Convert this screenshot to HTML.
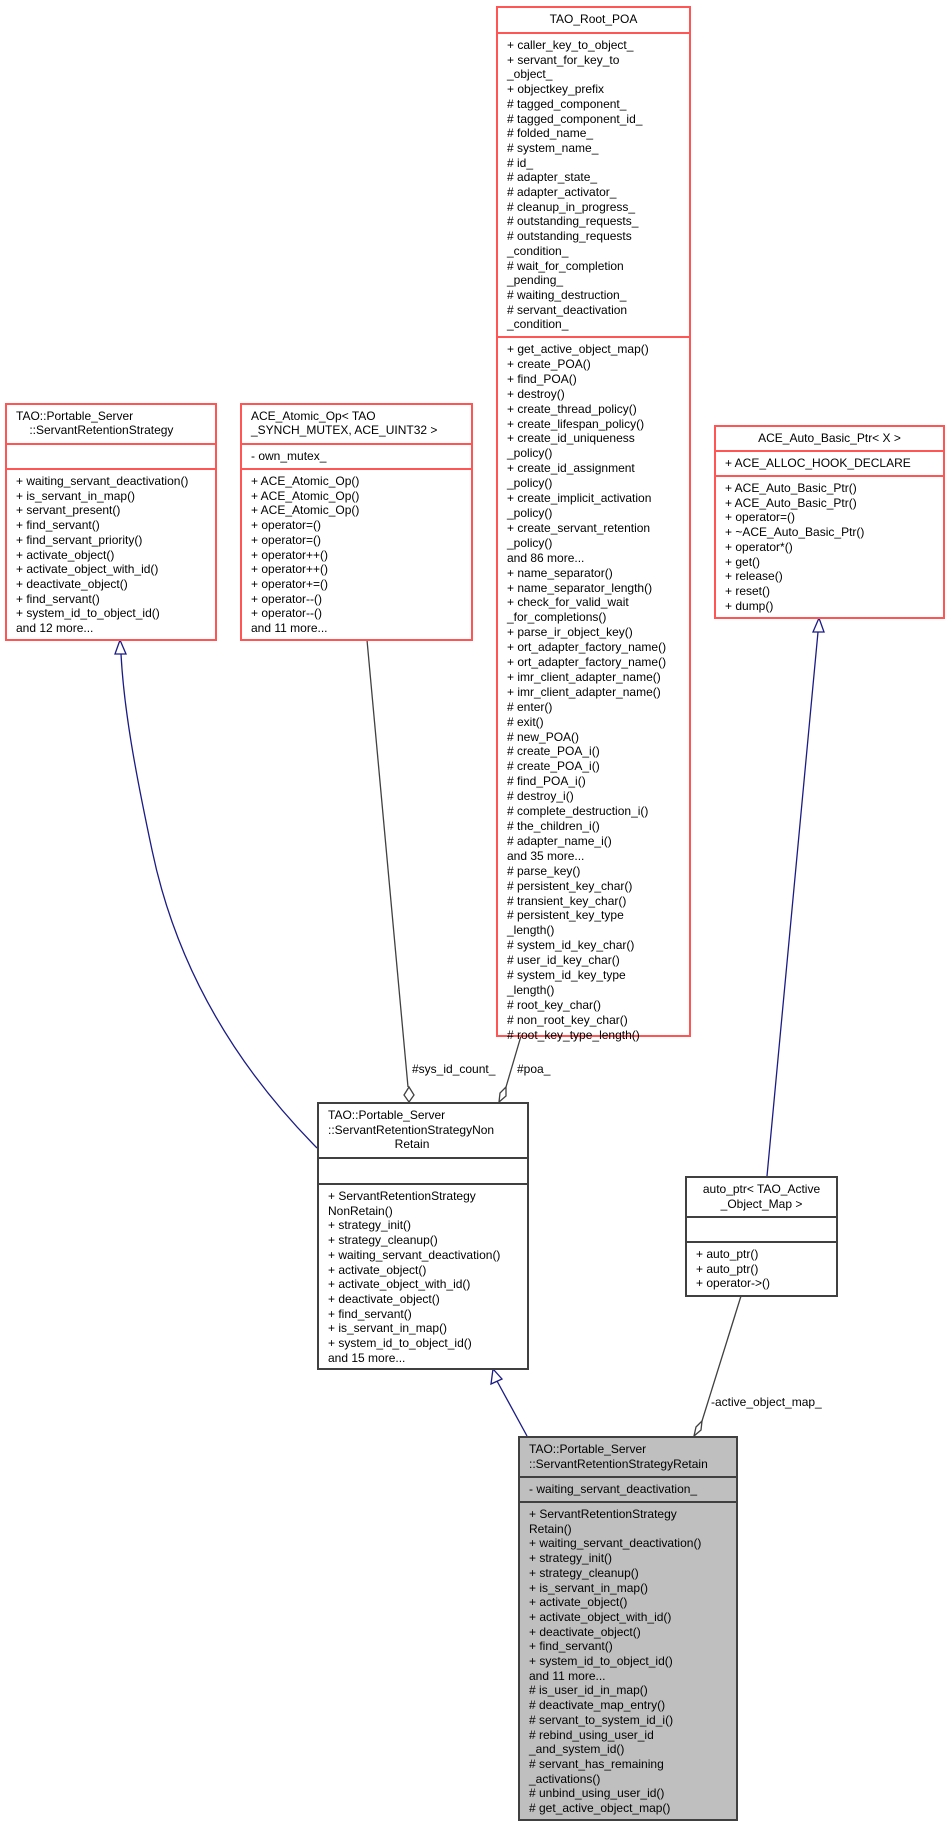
<!DOCTYPE html>
<html><head><meta charset="utf-8">
<style>
body{margin:0;background:#fff;}
#c{position:relative;width:949px;height:1827px;overflow:hidden;font-family:"Liberation Sans",Arial,sans-serif;font-size:12px;color:#000;}
.b{position:absolute;box-sizing:border-box;border:2px solid #ff5555;background:#fff;}
.k{border-color:#404040;}
.g{background:#bfbfbf;}
.s{position:absolute;left:0;right:0;box-sizing:border-box;padding:4px 0 0 9px;line-height:14.7px;white-space:pre;}
.d{border-top:2px solid #ff5555;}
.k .d{border-top-color:#404040;}
.ctr{text-align:center;padding-left:0;}
svg{position:absolute;left:0;top:0;}
.lbl{position:absolute;font-size:12px;line-height:14px;white-space:pre;}
</style></head><body><div id="c">
<svg width="949" height="1827">
 <g fill="none" stroke-width="1.3">
  <path d="M317,1148 C230,1060 175,960 152,850 C135,770 124,710 121,654" stroke="#1b1b87"/>
  <polygon points="120,640 115,654 126,654" fill="#fff" stroke="#1b1b87"/>
  <line x1="767" y1="1176" x2="818" y2="632" stroke="#1b1b87"/>
  <polygon points="819,618 813,632 824,632" fill="#fff" stroke="#1b1b87"/>
  <line x1="527" y1="1436" x2="497" y2="1381" stroke="#1b1b87"/>
  <polygon points="493,1369 491,1384 502,1379" fill="#fff" stroke="#1b1b87"/>
  <line x1="367" y1="640" x2="408" y2="1087" stroke="#404040"/>
  <polygon points="409,1087 404,1095 409,1102 414,1095" fill="#fff" stroke="#404040"/>
  <line x1="521" y1="1036" x2="506" y2="1087" stroke="#404040"/>
  <polygon points="506,1087 500,1093 499,1102 506,1096" fill="#fff" stroke="#404040"/>
  <line x1="741" y1="1296" x2="702" y2="1421" stroke="#404040"/>
  <polygon points="702,1421 696,1427 694,1436 701,1430" fill="#fff" stroke="#404040"/>
 </g>
</svg>
<div class="lbl" style="left:412px;top:1062px">#sys_id_count_</div>
<div class="lbl" style="left:517px;top:1062px">#poa_</div>
<div class="lbl" style="left:711px;top:1395px">-active_object_map_</div>

<div class="b" style="left:5px;top:403px;width:212px;height:238px">
 <div class="s" style="top:0;height:40px;line-height:14px">TAO::Portable_Server
    ::ServantRetentionStrategy</div>
 <div class="s d" style="top:38px;height:25px"></div>
 <div class="s d" style="top:63px">+ waiting_servant_deactivation()
+ is_servant_in_map()
+ servant_present()
+ find_servant()
+ find_servant_priority()
+ activate_object()
+ activate_object_with_id()
+ deactivate_object()
+ find_servant()
+ system_id_to_object_id()
and 12 more...</div>
</div>

<div class="b" style="left:240px;top:403px;width:233px;height:238px">
 <div class="s" style="top:0;height:40px;line-height:14px">ACE_Atomic_Op&lt; TAO
_SYNCH_MUTEX, ACE_UINT32 &gt;</div>
 <div class="s d" style="top:38px;height:25px">- own_mutex_</div>
 <div class="s d" style="top:63px">+ ACE_Atomic_Op()
+ ACE_Atomic_Op()
+ ACE_Atomic_Op()
+ operator=()
+ operator=()
+ operator++()
+ operator++()
+ operator+=()
+ operator--()
+ operator--()
and 11 more...</div>
</div>

<div class="b" style="left:496px;top:6px;width:195px;height:1031px">
 <div class="s ctr" style="top:0;height:26px">TAO_Root_POA</div>
 <div class="s d" style="top:24px;height:306px">+ caller_key_to_object_
+ servant_for_key_to
_object_
+ objectkey_prefix
# tagged_component_
# tagged_component_id_
# folded_name_
# system_name_
# id_
# adapter_state_
# adapter_activator_
# cleanup_in_progress_
# outstanding_requests_
# outstanding_requests
_condition_
# wait_for_completion
_pending_
# waiting_destruction_
# servant_deactivation
_condition_</div>
 <div class="s d" style="top:328px;line-height:14.9px">+ get_active_object_map()
+ create_POA()
+ find_POA()
+ destroy()
+ create_thread_policy()
+ create_lifespan_policy()
+ create_id_uniqueness
_policy()
+ create_id_assignment
_policy()
+ create_implicit_activation
_policy()
+ create_servant_retention
_policy()
and 86 more...
+ name_separator()
+ name_separator_length()
+ check_for_valid_wait
_for_completions()
+ parse_ir_object_key()
+ ort_adapter_factory_name()
+ ort_adapter_factory_name()
+ imr_client_adapter_name()
+ imr_client_adapter_name()
# enter()
# exit()
# new_POA()
# create_POA_i()
# create_POA_i()
# find_POA_i()
# destroy_i()
# complete_destruction_i()
# the_children_i()
# adapter_name_i()
and 35 more...
# parse_key()
# persistent_key_char()
# transient_key_char()
# persistent_key_type
_length()
# system_id_key_char()
# user_id_key_char()
# system_id_key_type
_length()
# root_key_char()
# non_root_key_char()
# root_key_type_length()</div>
</div>

<div class="b" style="left:714px;top:425px;width:231px;height:194px">
 <div class="s ctr" style="top:0;height:25px">ACE_Auto_Basic_Ptr&lt; X &gt;</div>
 <div class="s d" style="top:23px;height:25px">+ ACE_ALLOC_HOOK_DECLARE</div>
 <div class="s d" style="top:48px">+ ACE_Auto_Basic_Ptr()
+ ACE_Auto_Basic_Ptr()
+ operator=()
+ ~ACE_Auto_Basic_Ptr()
+ operator*()
+ get()
+ release()
+ reset()
+ dump()</div>
</div>

<div class="b k" style="left:317px;top:1102px;width:212px;height:268px">
 <div class="s" style="top:0;height:55px">TAO::Portable_Server
::ServantRetentionStrategyNon
                    Retain</div>
 <div class="s d" style="top:53px;height:26px"></div>
 <div class="s d" style="top:79px">+ ServantRetentionStrategy
NonRetain()
+ strategy_init()
+ strategy_cleanup()
+ waiting_servant_deactivation()
+ activate_object()
+ activate_object_with_id()
+ deactivate_object()
+ find_servant()
+ is_servant_in_map()
+ system_id_to_object_id()
and 15 more...</div>
</div>

<div class="b k" style="left:685px;top:1176px;width:153px;height:121px">
 <div class="s ctr" style="top:0;height:40px">auto_ptr&lt; TAO_Active
_Object_Map &gt;</div>
 <div class="s d" style="top:38px;height:25px"></div>
 <div class="s d" style="top:63px">+ auto_ptr()
+ auto_ptr()
+ operator-&gt;()</div>
</div>

<div class="b k g" style="left:518px;top:1436px;width:220px;height:385px">
 <div class="s" style="top:0;height:40px">TAO::Portable_Server
::ServantRetentionStrategyRetain</div>
 <div class="s d" style="top:38px;height:25px">- waiting_servant_deactivation_</div>
 <div class="s d" style="top:63px">+ ServantRetentionStrategy
Retain()
+ waiting_servant_deactivation()
+ strategy_init()
+ strategy_cleanup()
+ is_servant_in_map()
+ activate_object()
+ activate_object_with_id()
+ deactivate_object()
+ find_servant()
+ system_id_to_object_id()
and 11 more...
# is_user_id_in_map()
# deactivate_map_entry()
# servant_to_system_id_i()
# rebind_using_user_id
_and_system_id()
# servant_has_remaining
_activations()
# unbind_using_user_id()
# get_active_object_map()</div>
</div>
</div></body></html>
